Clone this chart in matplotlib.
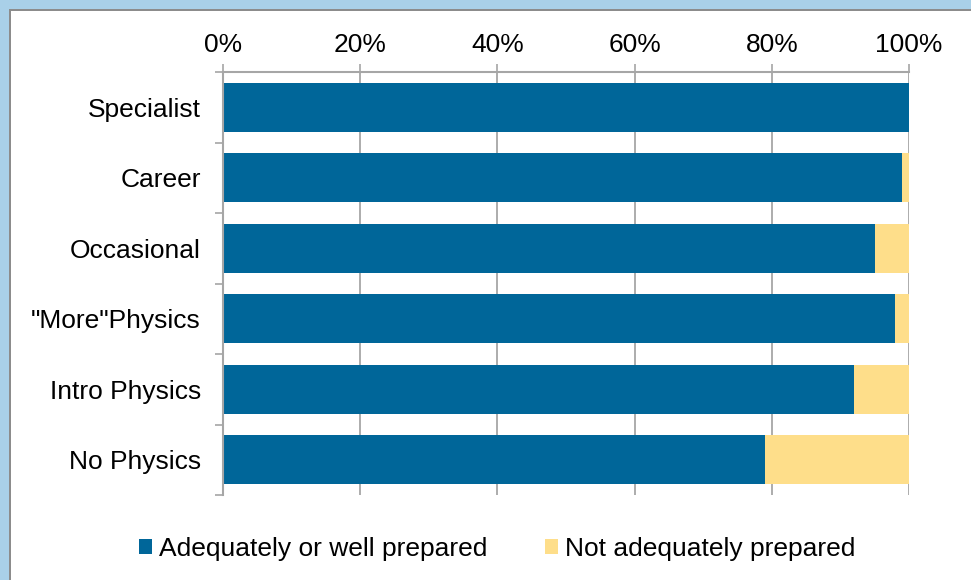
import matplotlib
matplotlib.use("Agg")
import matplotlib.pyplot as plt
from matplotlib.patches import Rectangle, Patch
import numpy as np

categories = ["Specialist", "Career", "Occasional", "\"More\"Physics", "Intro Physics", "No Physics"]
adequate = [100, 99, 95, 98, 92, 79]
not_adequate = [0, 1, 5, 2, 8, 21]
series_names = ["Adequately or well prepared", "Not adequately prepared"]
xticks = [0, 20, 40, 60, 80, 100]
xtick_labels = ["0%", "20%", "40%", "60%", "80%", "100%"]

BLUE = "#006699"
YELLOW = "#FEDE8A"
GRID = "#a6a6a6"

plt.rcParams['font.family'] = ['Liberation Sans', 'DejaVu Sans']

W, H = 971, 580
fig = plt.figure(figsize=(W / 100, H / 100), dpi=100)
fig.patch.set_facecolor("white")

# frame: light blue strips at top/left with grey inner line
fig.patches.append(Rectangle((0, 1 - 9 / H), 1, 9 / H, transform=fig.transFigure,
                             facecolor="#a9d0e8", edgecolor="none", zorder=0))
fig.patches.append(Rectangle((0, 0), 9 / W, 1, transform=fig.transFigure,
                             facecolor="#a9d0e8", edgecolor="none", zorder=0))
fig.patches.append(Rectangle((9 / W, 1 - 11 / H), 1, 2 / H, transform=fig.transFigure,
                             facecolor="#8c8c8c", edgecolor="none", zorder=0))
fig.patches.append(Rectangle((9 / W, 0), 2 / W, 1 - 9 / H, transform=fig.transFigure,
                             facecolor="#8c8c8c", edgecolor="none", zorder=0))

left, right, top, bottom = 223 / W, 909 / W, 1 - 72 / H, 1 - 495 / H
ax = fig.add_axes([left, bottom, right - left, top - bottom])

y = np.arange(len(categories))
ax.barh(y, adequate, height=0.7, color=BLUE, zorder=3, label=series_names[0])
ax.barh(y, not_adequate, left=adequate, height=0.7, color=YELLOW, zorder=3, label=series_names[1])

ax.set_xlim(0, 100)
ax.set_ylim(len(categories) - 0.5, -0.5)

ax.xaxis.tick_top()
ax.set_xticks(xticks)
ax.set_xticklabels(xtick_labels, fontsize=19)
ax.tick_params(axis='x', which='major', direction='out', length=6, width=1.2,
               color=GRID, pad=4.5)
ax.grid(axis='x', color=GRID, linewidth=1.3, zorder=1)

ax.set_yticks(y)
ax.set_yticklabels(categories, fontsize=19)
ax.set_yticks(np.arange(len(categories) + 1) - 0.5, minor=True)
ax.tick_params(axis='y', which='major', length=0, pad=16)
ax.tick_params(axis='y', which='minor', direction='out', length=6, width=1.2, color=GRID)

for s in ['right', 'bottom']:
    ax.spines[s].set_visible(False)
for s in ['left', 'top']:
    ax.spines[s].set_color(GRID)
    ax.spines[s].set_linewidth(1.5)
    ax.spines[s].set_zorder(4)

handles = [Patch(facecolor=BLUE, edgecolor='none'), Patch(facecolor=YELLOW, edgecolor='none')]
fig.legend(handles, series_names, loc='center', bbox_to_anchor=(497 / W, 1 - 549 / H),
           ncol=2, frameon=False, fontsize=19, handlelength=0.5, handleheight=0.5,
           handletextpad=0.25, columnspacing=2.2)

fig.savefig("out.png", dpi=100, facecolor=fig.get_facecolor())
